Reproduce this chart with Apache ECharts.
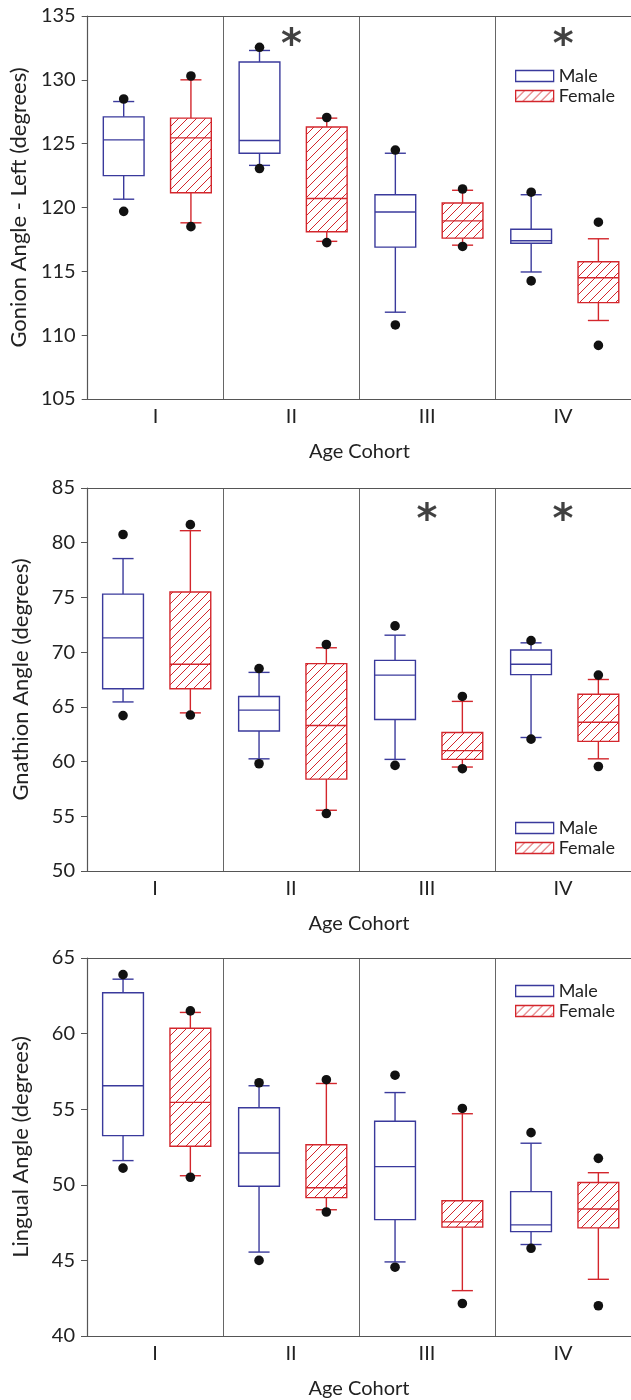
<!DOCTYPE html>
<html>
<head>
<meta charset="utf-8">
<script src="https://cdn.jsdelivr.net/npm/echarts@6/dist/echarts.min.js"></script>
<style>
html, body { margin: 0; padding: 0; background: #fff; }
#graph { width: 631px; height: 1400px; }
</style>
</head>
<body>
<div id="graph"></div>
<script>
var cohorts = ['I', 'II', 'III', 'IV'];

// each row: [low dot, low whisker, Q1, median, Q3, high whisker, high dot]
var gonionMale = [
    [119.7, 120.65, 122.5, 125.3, 127.1, 128.3, 128.5],
    [123.05, 123.3, 124.25, 125.25, 131.4, 132.3, 132.55],
    [110.8, 111.8, 116.9, 119.65, 121.0, 124.25, 124.5],
    [114.25, 114.95, 117.2, 117.4, 118.3, 121.0, 121.2]
];
var gonionFemale = [
    [118.5, 118.8, 121.15, 125.45, 127.0, 130.0, 130.3],
    [117.25, 117.35, 118.1, 120.7, 126.3, 127.0, 127.05],
    [116.95, 117.05, 117.6, 118.95, 120.35, 121.35, 121.45],
    [109.2, 111.15, 112.55, 114.5, 115.75, 117.55, 118.85]
];
var gnathionMale = [
    [64.2, 65.45, 66.65, 71.3, 75.3, 78.55, 80.75],
    [59.8, 60.25, 62.8, 64.7, 65.95, 68.15, 68.5],
    [59.65, 60.2, 63.85, 67.9, 69.25, 71.55, 72.4],
    [62.05, 62.2, 67.95, 68.9, 70.2, 70.85, 71.05]
];
var gnathionFemale = [
    [64.25, 64.45, 66.65, 68.9, 75.5, 81.1, 81.65],
    [55.25, 55.55, 58.4, 63.3, 68.95, 70.4, 70.7],
    [59.35, 59.5, 60.2, 61.0, 62.65, 65.5, 65.95],
    [59.55, 60.25, 61.85, 63.6, 66.15, 67.5, 67.9]
];
var lingualMale = [
    [51.1, 51.6, 53.25, 56.55, 62.7, 63.6, 63.9],
    [45.0, 45.55, 49.9, 52.1, 55.1, 56.55, 56.75],
    [44.55, 44.9, 47.7, 51.2, 54.2, 56.1, 57.25],
    [45.8, 46.05, 46.9, 47.35, 49.55, 52.75, 53.45]
];
var lingualFemale = [
    [50.5, 50.6, 52.55, 55.45, 60.35, 61.4, 61.5],
    [48.2, 48.35, 49.15, 49.8, 52.65, 56.7, 56.95],
    [42.15, 43.0, 47.2, 47.55, 48.95, 54.7, 55.05],
    [42.0, 43.75, 47.15, 48.4, 50.15, 50.8, 51.75]
];

// significance marks: cohort index and height
var gonionStars = [[1, 133.35], [3, 133.35]];
var gnathionStars = [[2, 82.8], [3, 82.8]];
var lingualStars = [];

var blue = '#3a3a9c';
var red = '#d3262c';

var panels = [
    { title: 'Gonion Angle - Left (degrees)', min: 105, max: 135, male: gonionMale, female: gonionFemale, stars: gonionStars, top: 16, height: 383, legendTop: 61 },
    { title: 'Gnathion Angle (degrees)', min: 50, max: 85, male: gnathionMale, female: gnathionFemale, stars: gnathionStars, top: 488, height: 383, legendTop: 813 },
    { title: 'Lingual Angle (degrees)', min: 40, max: 65, male: lingualMale, female: lingualFemale, stars: lingualStars, top: 958, height: 381, legendTop: 976 }
];

// hatch fill for the female boxes
var hatch = document.createElement('canvas');
hatch.width = 9;
hatch.height = 9;
var ctx = hatch.getContext('2d');
ctx.fillStyle = '#fff';
ctx.fillRect(0, 0, 9, 9);
ctx.strokeStyle = red;
ctx.lineWidth = 1;
ctx.beginPath();
ctx.moveTo(0, 9); ctx.lineTo(9, 0);
ctx.moveTo(-1, 1); ctx.lineTo(1, -1);
ctx.moveTo(8, 10); ctx.lineTo(10, 8);
ctx.stroke();
var hatchFill = { image: hatch, repeat: 'repeat' };

function makeBox(offset, color, fill) {
    return function (params, api) {
        var band = api.size([1, 0])[0];
        var cat = api.value(0);
        var cx = api.coord([cat, 0])[0] + offset * band;
        var y = function (i) { return api.coord([cat, api.value(i)])[1]; };
        var bw = 0.3 * band, cw = 0.155 * band;
        var ln = { stroke: color, lineWidth: 1.4 };
        return {
            type: 'group',
            children: [
                { type: 'line', shape: { x1: cx, y1: y(3), x2: cx, y2: y(2) }, style: ln },
                { type: 'line', shape: { x1: cx - cw / 2, y1: y(2), x2: cx + cw / 2, y2: y(2) }, style: ln },
                { type: 'line', shape: { x1: cx, y1: y(5), x2: cx, y2: y(6) }, style: ln },
                { type: 'line', shape: { x1: cx - cw / 2, y1: y(6), x2: cx + cw / 2, y2: y(6) }, style: ln },
                { type: 'rect', shape: { x: cx - bw / 2, y: y(5), width: bw, height: y(3) - y(5) },
                  style: { fill: fill, stroke: color, lineWidth: 1.4 } },
                { type: 'line', shape: { x1: cx - bw / 2, y1: y(4), x2: cx + bw / 2, y2: y(4) }, style: ln },
                { type: 'circle', shape: { cx: cx, cy: y(1), r: 4.8 }, style: { fill: '#111' } },
                { type: 'circle', shape: { cx: cx, cy: y(7), r: 4.8 }, style: { fill: '#111' } }
            ]
        };
    };
}

function rows(arr) {
    return arr.map(function (r, i) { return [i].concat(r); });
}

var grid = [], xAxis = [], yAxis = [], series = [], legend = [];
var font = 'Lato';

panels.forEach(function (p, k) {
    grid.push({ left: 87, right: 0, top: p.top, height: p.height });
    xAxis.push({
        type: 'category', gridIndex: k, data: cohorts, position: 'bottom',
        axisLine: { lineStyle: { color: '#555', width: 1.2 } },
        axisTick: { show: false },
        axisLabel: { fontSize: 20, color: '#222', margin: 8, fontFamily: font },
        splitLine: { show: true, interval: 0, lineStyle: { color: '#666', width: 1 } },
        name: 'Age Cohort', nameLocation: 'middle', nameGap: 43,
        nameTextStyle: { fontSize: 20, color: '#222', fontFamily: font }
    });
    xAxis.push({
        type: 'category', gridIndex: k, data: cohorts, position: 'top',
        axisLine: { lineStyle: { color: '#555', width: 1.2 } },
        axisTick: { show: false }, axisLabel: { show: false }, splitLine: { show: false }
    });
    yAxis.push({
        type: 'value', gridIndex: k, min: p.min, max: p.max, interval: 5,
        axisLine: { show: true, lineStyle: { color: '#555', width: 1.2 } },
        axisTick: { show: true, length: 6, lineStyle: { color: '#555' } },
        axisLabel: { fontSize: 20, color: '#222', margin: 12, fontFamily: font },
        splitLine: { show: false },
        name: p.title, nameLocation: 'middle', nameGap: 55,
        nameTextStyle: { fontSize: 22, color: '#222', fontFamily: font }
    });
    series.push({
        type: 'custom', name: 'Male', xAxisIndex: 2 * k, yAxisIndex: k,
        renderItem: makeBox(-0.235, blue, '#fff'),
        encode: { x: 0, y: [1, 2, 3, 4, 5, 6, 7] },
        itemStyle: { color: blue },
        data: rows(p.male)
    });
    series.push({
        type: 'custom', name: 'Female', xAxisIndex: 2 * k, yAxisIndex: k,
        renderItem: makeBox(0.26, red, hatchFill),
        encode: { x: 0, y: [1, 2, 3, 4, 5, 6, 7] },
        itemStyle: { color: red },
        data: rows(p.female)
    });
    series.push({
        type: 'scatter', name: 'sig', xAxisIndex: 2 * k, yAxisIndex: k,
        symbolSize: 0.1, itemStyle: { color: 'transparent' },
        label: { show: true, position: 'inside', formatter: '*', fontSize: 40, fontWeight: 'bold',
                 fontFamily: 'DejaVu Sans', color: '#111', offset: [0, 10] },
        silent: true,
        data: p.stars
    });
    legend.push({
        orient: 'vertical', left: 510, top: p.legendTop,
        itemWidth: 38, itemHeight: 11, itemGap: 0, selectedMode: false,
        textStyle: { fontSize: 18, color: '#222', lineHeight: 20, fontFamily: font },
        data: [
            { name: 'Male', icon: 'rect', itemStyle: { color: '#fff', borderColor: blue, borderWidth: 1.3 } },
            { name: 'Female', icon: 'rect', itemStyle: { color: hatchFill, borderColor: red, borderWidth: 1.3 } }
        ]
    });
});

var myChart = echarts.init(document.getElementById('graph'));
var option = {
    backgroundColor: '#fff',
    animation: false,
    grid: grid,
    xAxis: xAxis,
    yAxis: yAxis,
    legend: legend,
    series: series
};
myChart.setOption(option);
</script>
</body>
</html>
